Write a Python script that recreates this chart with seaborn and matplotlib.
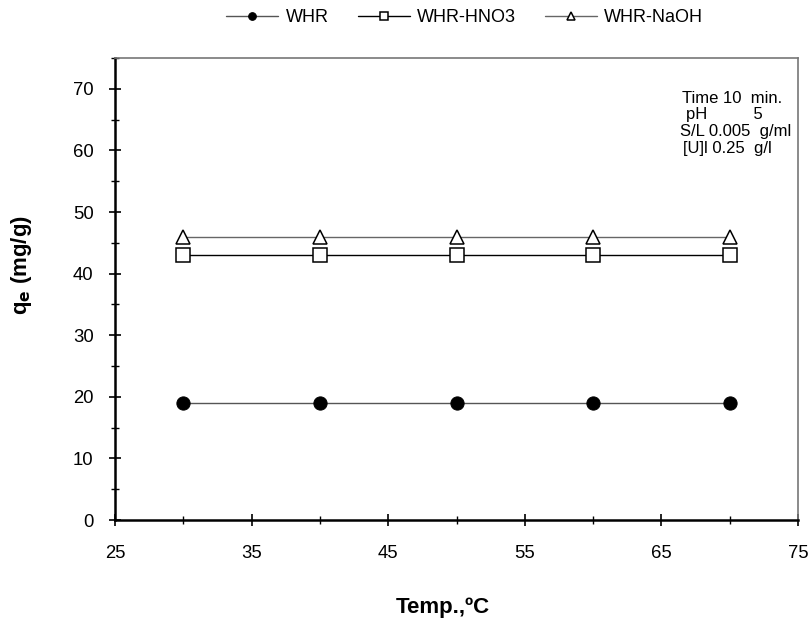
import matplotlib
matplotlib.use("Agg")
import matplotlib.pyplot as plt
from matplotlib.ticker import MultipleLocator
import seaborn as sns
import pandas as pd

# Temperatures (ºC) and uptake q_e (mg/g) for each sorbent
temperature = [30, 40, 50, 60, 70]
qe_whr = [19, 19, 19, 19, 19]
qe_whr_hno3 = [43, 43, 43, 43, 43]
qe_whr_naoh = [46, 46, 46, 46, 46]
series_names = ["WHR", "WHR-HNO3", "WHR-NaOH"]

# Experimental conditions shown in the corner box
conditions = ["Time 10  min.", "pH          5", "S/L 0.005  g/ml", "[U]l 0.25  g/l"]

sns.set_theme(style="white")
plt.rcParams["font.family"] = ["Liberation Sans", "DejaVu Sans"]
plt.rcParams["text.color"] = "black"
plt.rcParams["axes.labelcolor"] = "black"
plt.rcParams["xtick.color"] = "black"
plt.rcParams["ytick.color"] = "black"

fig = plt.figure(figsize=(8.11, 6.21), dpi=100)
ax = fig.add_axes([0.1418, 0.1626, 0.8422, 0.744])

styles = [
    dict(marker="o", markerfacecolor="black", markeredgecolor="black",
         markersize=9.5, color="#555555"),
    dict(marker="s", markerfacecolor="white", markeredgecolor="black",
         markersize=10, markeredgewidth=1.1, color="black"),
    dict(marker="^", markerfacecolor="white", markeredgecolor="black",
         markersize=10, markeredgewidth=1.1, color="#666666"),
]
for name, values, st in zip(series_names, [qe_whr, qe_whr_hno3, qe_whr_naoh], styles):
    df = pd.DataFrame({"T": temperature, "qe": values})
    sns.lineplot(data=df, x="T", y="qe", ax=ax, label=name,
                 linewidth=1.0, **st)

ax.set_xlim(25, 75)
ax.set_ylim(0, 75)
ax.xaxis.set_minor_locator(MultipleLocator(5))
ax.set_xticks([25, 35, 45, 55, 65, 75])
ax.yaxis.set_minor_locator(MultipleLocator(5))
ax.set_yticks([0, 10, 20, 30, 40, 50, 60, 70])
ax.tick_params(axis="both", which="major", direction="inout", length=8.6,
               width=1.2, colors="black", labelsize=13.3, bottom=True, left=True)
ax.tick_params(axis="both", which="minor", direction="inout", length=5.8,
               width=1.0, colors="black", bottom=True, left=True)
ax.tick_params(axis="x", which="major", pad=13.5)
ax.tick_params(axis="y", which="major", pad=11)

for side in ["left", "bottom"]:
    ax.spines[side].set_color("black")
    ax.spines[side].set_linewidth(1.8)
for side in ["top", "right"]:
    ax.spines[side].set_color("#777777")
    ax.spines[side].set_linewidth(1.2)

ax.set_xlabel("Temp.,ºC", fontsize=16, fontweight="bold", color="black")
ax.xaxis.set_label_coords(0.480, -0.1667)
ax.set_ylabel(r"q$_\mathbf{e}$ (mg/g)", fontsize=16, fontweight="bold", color="black")
ax.yaxis.set_label_coords(-0.1186, 0.552)

leg = ax.legend(loc="center", bbox_to_anchor=(0.573, 0.972), bbox_transform=fig.transFigure,
                ncol=3, frameon=False, fontsize=13, handlelength=2.88,
                columnspacing=1.6, handletextpad=0.4, markerscale=0.58)
for t in leg.get_texts():
    t.set_color("black")

# Condition lines, each placed at its own baseline
cond_pos = [(681.7, 103.0), (686.0, 119.5), (680.0, 136.0), (683.0, 152.5)]
for txt, (px, py) in zip(conditions, cond_pos):
    fig.text(px / 811, 1 - py / 621, txt, fontsize=12, ha="left", va="baseline",
             color="black")

fig.savefig("out.png", dpi=100)
